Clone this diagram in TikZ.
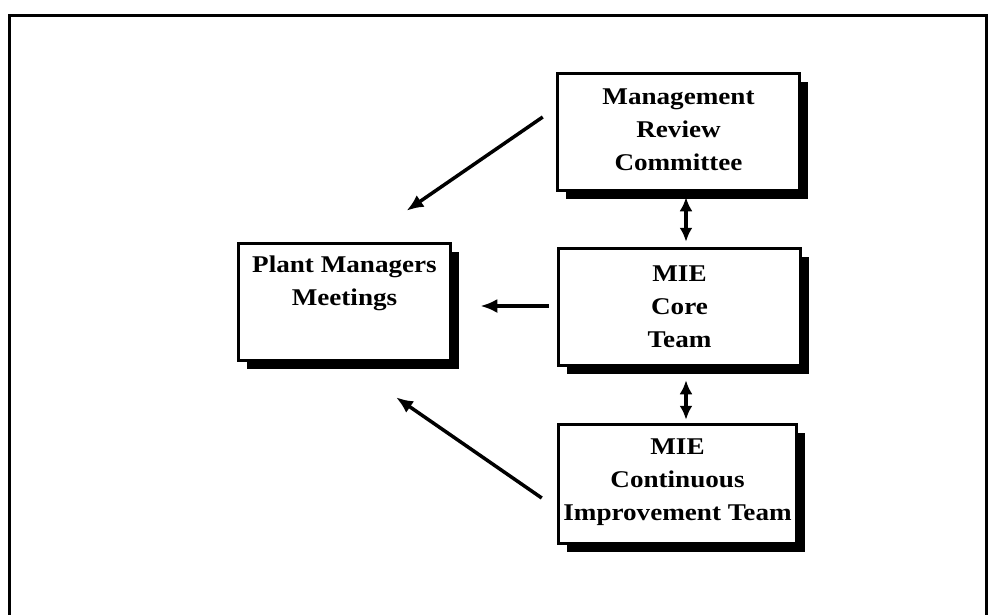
\documentclass[tikz,border=0pt]{standalone}
\usepackage{fontspec}
\newfontfamily\boxfont[FakeStretch=1.13]{Liberation Serif}
\usetikzlibrary{positioning,arrows.meta,shadows}
\tikzset{
	box/.style={shape=rectangle, draw=black, line width=3.5pt, fill=white,
		drop shadow={shadow xshift=8pt, shadow yshift=-8pt, fill=black, opacity=1}},
	lbl/.style={inner sep=0pt, align=center, font=\boxfont\bfseries\fontsize{24}{33}\selectfont},
	arr/.style={line width=3.5pt, -{Latex[length=17pt,width=14pt]}},
	dbl/.style={line width=3.5pt, {Latex[length=14pt,width=13pt]}-{Latex[length=14pt,width=13pt]}}
}

\begin{document}
\begin{tikzpicture}[x=1pt, y=-1pt]
		\useasboundingbox (0,0) rectangle (991,614);
		\clip (0,0) rectangle (991,614);
		\draw[line width=3pt] (9,15) rectangle (986,630);
		
		\node[box, minimum width=242, minimum height=117] (mrc) at (678.5,132) {};
		\node[box, minimum width=242, minimum height=117] (core) at (679.5,307) {};
		\node[box, minimum width=238, minimum height=119] (cit) at (677.5,484) {};
		\node[box, minimum width=212, minimum height=117] (pm) at (344.5,302) {};
		
		\node[lbl, below=17pt of mrc.north] (mrctext) {Management\\Review\\Committee};
		\node[lbl, below=19pt of core.north] (coretext) {MIE\\Core\\Team};
		\node[lbl, below=16pt of cit.north] (cittext) {MIE\\Continuous\\Improvement Team};
		\node[lbl, below=14pt of pm.north] (pmtext) {Plant Managers\\Meetings};
		
		\draw[arr] ([xshift=-13pt,yshift=15pt]mrc.west) -- ([xshift=62pt,yshift=31pt]pm.north);
		\draw[arr] ([xshift=-8pt,yshift=1pt]core.west) -- ([xshift=28pt,yshift=-4pt]pm.east);
		\draw[arr] ([xshift=-15pt,yshift=-14pt]cit.west) -- ([xshift=51.5pt,yshift=-35pt]pm.south);
		
		\draw[dbl] ([xshift=7.5pt,yshift=-5pt]mrc.south) -- ([xshift=6.5pt,yshift=5pt]core.north);
		\draw[dbl] ([xshift=6.5pt,yshift=-13pt]core.south) -- ([xshift=8.5pt,yshift=3pt]cit.north);
\end{tikzpicture}
\end{document}
